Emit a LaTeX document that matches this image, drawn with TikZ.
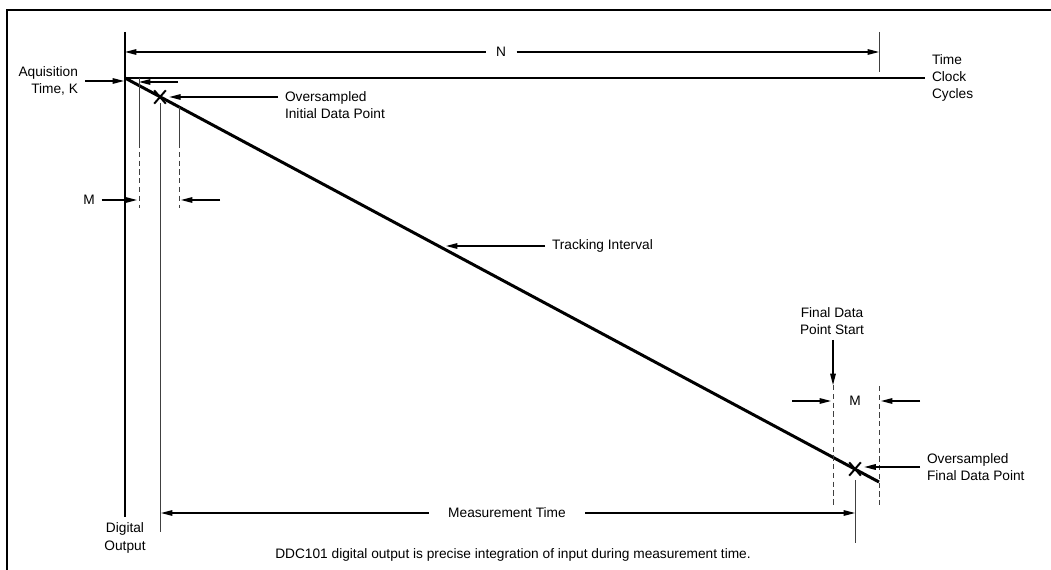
\documentclass[tikz,border=0pt]{standalone}
\usepackage{fontspec}
\setmainfont{Liberation Sans}
\usetikzlibrary{arrows.meta, shapes.misc}

\tikzset{
  lbl/.style={font=\fontsize{7.8}{9.8}\selectfont, inner sep=0pt, outer xsep=4pt},
  arr/.style={-{Triangle[length=6.5pt,width=3.2pt]}, line width=0.65pt},
  frameline/.style={line width=1.6pt},
  axisline/.style={line width=0.9pt},
  guide/.style={line width=0.45pt, black!75},
  dashguide/.style={guide, dash pattern=on 3pt off 2pt},
  xm/.style={draw, cross out, line width=1.1pt, minimum width=5.5pt, minimum height=6.5pt, inner sep=0pt},
}

\begin{document}
\begin{tikzpicture}[x=0.2mm, y=-0.2mm]
\useasboundingbox (0,0) rectangle (1051,570);

% === Frame ===
\draw[frameline] (7,570) -- (7,10) -- (1051,10);

% === Axes ===
\coordinate (orig) at (125,78);
\coordinate (axtop) at (125,32);
\coordinate (axbot) at (125,517);
\draw[axisline] (axtop) -- (axbot);
\node[lbl, anchor=west, align=left] (tcc) at (925,78) {Time\\Clock\\Cycles};
\draw[axisline] (orig) -- (tcc.west);
\node[lbl, align=center] (dout) at (125,538) {Digital\\Output};

% === Tracking line ===
\coordinate (trkend) at (879,482);
\draw[line width=1.7pt] (orig) -- (trkend);
\node[xm] (xi) at (160,97) {};
\node[xm] (xf) at (855,469) {};

% === N span ===
\node[lbl, outer xsep=6pt] (n) at (501,52) {N};
\coordinate (ntick) at (879,52);
\draw[guide] (879,32) -- (879,72);
\draw[arr] (n.west) -- (125,52);
\draw[arr] (n.east) -- (ntick);

% === Start of conversion ===
\node[lbl, anchor=east, align=right] (acq) at (85,81) {Aquisition\\Time, K};
\coordinate (acqpt) at (124,81);
\draw[arr] (acq.east) -- (acqpt);
\coordinate (kend) at (178,82);
\coordinate (kpt) at (139,82);
\draw[arr] (kend) -- (kpt);

\draw[guide] (139,78) -- (139,143);
\draw[dashguide] (139,143) -- (139,208);
\draw[guide] (179,107) -- (179,143);
\draw[dashguide] (179,143) -- (179,208);
\draw[guide] (160,103) -- (160,532);

\node[lbl] (ml) at (89,200) {M};
\coordinate (mlpt) at (137,200);
\draw[arr] (ml.east) -- (mlpt);
\coordinate (mrend) at (220,200);
\coordinate (mrpt) at (181,200);
\draw[arr] (mrend) -- (mrpt);

\node[lbl, anchor=west, align=left] (oinit) at (278,105) {Oversampled\\Initial Data Point};
\draw[arr, shorten >=2pt] (oinit.west |- xi) -- (xi);

% === Tracking interval ===
\node[lbl, anchor=west] (trk) at (545,246) {Tracking Interval};
\coordinate (trkpt) at (446,246);
\draw[arr] (trk.west) -- (trkpt);

% === End of conversion ===
\node[lbl, align=center] (fdps) at (832,321) {Final Data\\Point Start};
\coordinate (fdpt) at (833,385);
\draw[arr] (fdps.south -| fdpt) ++(0,5) -- (fdpt);

\draw[dashguide] (833,385) -- (833,505);
\draw[dashguide] (879,386) -- (879,505);
\draw[guide] (855,480) -- (855,543);

\node[lbl] (mf) at (855,401) {M};
\coordinate (mfl) at (792,401);
\coordinate (mflpt) at (831,401);
\coordinate (mfr) at (920,401);
\coordinate (mfrpt) at (881,401);
\draw[arr] (mfl) -- (mflpt);
\draw[arr] (mfr) -- (mfrpt);

\node[lbl, anchor=west, align=left] (ofin) at (920,467) {Oversampled\\Final Data Point};
\draw[arr, shorten >=2pt] (ofin.west) -- (ofin.west -| xf.east);

% === Measurement time ===
\node[lbl, outer xsep=11pt] (meas) at (507,513) {Measurement Time};
\coordinate (mtl) at (161,513);
\coordinate (mtr) at (855,513);
\draw[arr] (meas.west) -- (mtl);
\draw[arr] (meas.east) -- (mtr);

\node[lbl] (cap) at (513,555) {DDC101 digital output is precise integration of input during measurement time.};

\end{tikzpicture}
\end{document}
